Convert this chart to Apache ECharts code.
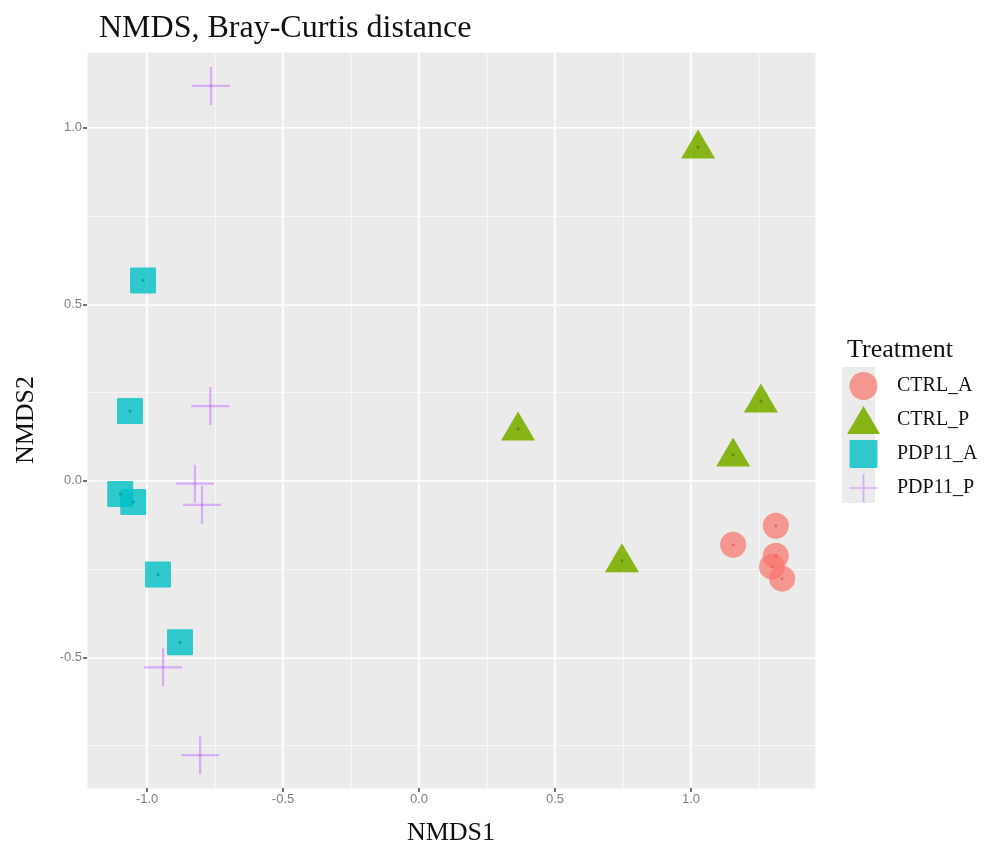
<!DOCTYPE html>
<html>
<head>
<meta charset="utf-8">
<script src="https://cdn.jsdelivr.net/npm/echarts@6/dist/echarts.min.js"></script>
<style>
html,body{margin:0;padding:0;background:#fff;}
#chart{width:987px;height:851px;}
</style>
</head>
<body>
<div id="chart"></div>
<script>
// ---- data ----
const groups = ['CTRL_A', 'CTRL_P', 'PDP11_A', 'PDP11_P'];
const ctrlA_x = [1.312, 1.155, 1.312, 1.298, 1.335];
const ctrlA_y = [-0.127, -0.181, -0.212, -0.243, -0.277];
const ctrlP_x = [1.026, 0.364, 1.257, 1.155, 0.746];
const ctrlP_y = [0.946, 0.147, 0.226, 0.073, -0.226];
const pdpA_x = [-1.015, -1.063, -1.099, -1.051, -0.960, -0.879];
const pdpA_y = [0.568, 0.198, -0.037, -0.060, -0.265, -0.457];
const pdpP_x = [-0.765, -0.768, -0.824, -0.798, -0.941, -0.805];
const pdpP_y = [1.119, 0.212, -0.008, -0.068, -0.528, -0.777];
const xTicks = [-1.0, -0.5, 0.0, 0.5, 1.0];
const yTicks = [-0.5, 0.0, 0.5, 1.0];
const xRange = [-1.221, 1.456];
const yRange = [-0.870, 1.215];

function pairs(xs, ys) { return xs.map((x, i) => [x, ys[i]]); }

const serif = "'Liberation Serif','DejaVu Serif',serif";
const sans = "'Liberation Sans',Arial,sans-serif";
const plusPath = 'path://M0,9.4L20,9.4L20,10.6L0,10.6Z M9.4,0L10.6,0L10.6,20L9.4,20Z';
const sqPath = 'path://M1,0L19,0Q20,0 20,1L20,19Q20,20 19,20L1,20Q0,20 0,19L0,1Q0,0 1,0Z';
const fmt = v => {
  for (const t of xTicks.concat(yTicks)) if (Math.abs(v - t) < 1e-6) return t.toFixed(1);
  return '';
};

const styles = {
  CTRL_A: {symbol: 'circle', size: 26, color: 'rgba(248,118,109,0.72)', dot: 'rgba(230,90,85,0.9)', offset: [0, 0]},
  CTRL_P: {symbol: 'triangle', size: [34, 29], color: 'rgba(124,174,0,0.9)', dot: 'rgba(80,130,0,0.9)', offset: [0, -3]},
  PDP11_A: {symbol: sqPath, size: 26, color: 'rgba(0,191,196,0.8)', dot: 'rgba(0,150,150,0.9)', offset: [0, 0]},
  PDP11_P: {symbol: plusPath, size: 38, color: 'rgba(199,124,255,0.55)', dot: 'rgba(180,100,240,0.6)', offset: [0, 0]}
};
const dataByGroup = {
  CTRL_A: pairs(ctrlA_x, ctrlA_y),
  CTRL_P: pairs(ctrlP_x, ctrlP_y),
  PDP11_A: pairs(pdpA_x, pdpA_y),
  PDP11_P: pairs(pdpP_x, pdpP_y)
};

const series = [];
groups.forEach(g => {
  const s = styles[g];
  series.push({
    name: g, type: 'scatter', xAxisIndex: 0, yAxisIndex: 0,
    symbol: s.symbol, symbolSize: s.size, symbolOffset: s.offset, symbolKeepAspect: true,
    itemStyle: {color: s.color, opacity: 1},
    emphasis: {disabled: true},
    data: dataByGroup[g], z: 3
  });
});
groups.forEach(g => {
  const s = styles[g];
  series.push({
    name: g, type: 'scatter', xAxisIndex: 0, yAxisIndex: 0,
    symbol: 'circle', symbolSize: 3,
    itemStyle: {color: s.dot},
    emphasis: {disabled: true}, silent: true,
    data: dataByGroup[g], z: 4
  });
});

const axisCommon = {
  type: 'value',
  axisLine: {show: false, onZero: false},
  axisTick: {show: true, length: 4, lineStyle: {color: '#444', width: 1.5}},
  axisLabel: {color: '#808080', fontSize: 13, fontFamily: sans, formatter: fmt, margin: 5}
};

const chart = echarts.init(document.getElementById('chart'), null, {renderer: 'canvas'});
chart.setOption({
  animation: false,
  backgroundColor: '#ffffff',
  title: [
    {text: 'NMDS, Bray-Curtis distance', left: 94, top: 8,
     textStyle: {fontFamily: serif, fontSize: 32, fontWeight: 'normal', color: '#111'}},
    {text: 'Treatment', left: 842, top: 332,
     textStyle: {fontFamily: serif, fontSize: 26, fontWeight: 'normal', color: '#111'}}
  ],
  grid: {left: 87, right: 172, top: 52, bottom: 61, show: true, backgroundColor: '#EBEBEB', borderWidth: 0, containLabel: false},
  legend: {
    data: groups, orient: 'vertical', left: 842, top: 367,
    itemWidth: 33, itemHeight: 28, itemGap: 6,
    textStyle: {fontFamily: serif, fontSize: 20, color: '#111', padding: [0, 0, 0, 12]},
    selectedMode: false
  },
  graphic: [
    {type: 'rect', left: 842, top: 367, shape: {width: 33, height: 136}, style: {fill: '#EBEBEB'}, z: -1, silent: true}
  ],
  xAxis: [
    Object.assign({}, axisCommon, {
      min: xRange[0], max: xRange[1], minInterval: 0.5, maxInterval: 0.5, splitNumber: 5,
      axisTick: Object.assign({}, axisCommon.axisTick, {customValues: xTicks}),
      axisLabel: Object.assign({}, axisCommon.axisLabel, {customValues: xTicks}),
      splitLine: {show: true, lineStyle: {color: '#ffffff', width: 2.2}},
      name: 'NMDS1', nameLocation: 'middle', nameGap: 32,
      nameTextStyle: {fontFamily: serif, fontSize: 26, color: '#111'}
    }),
    {
      type: 'value', min: xRange[0], max: xRange[1], minInterval: 0.25, maxInterval: 0.25, splitNumber: 10,
      axisLine: {show: false, onZero: false}, axisTick: {show: false}, axisLabel: {show: false},
      splitLine: {show: true, lineStyle: {color: '#f7f7f7', width: 1}}
    }
  ],
  yAxis: [
    Object.assign({}, axisCommon, {
      min: yRange[0], max: yRange[1], minInterval: 0.5, maxInterval: 0.5, splitNumber: 5,
      axisTick: Object.assign({}, axisCommon.axisTick, {customValues: yTicks}),
      axisLabel: Object.assign({}, axisCommon.axisLabel, {customValues: yTicks}),
      splitLine: {show: true, lineStyle: {color: '#ffffff', width: 2.2}},
      name: 'NMDS2', nameLocation: 'middle', nameGap: 48,
      nameTextStyle: {fontFamily: serif, fontSize: 26, color: '#111'}
    }),
    {
      type: 'value', min: yRange[0], max: yRange[1], minInterval: 0.25, maxInterval: 0.25, splitNumber: 10,
      axisLine: {show: false, onZero: false}, axisTick: {show: false}, axisLabel: {show: false},
      splitLine: {show: true, lineStyle: {color: '#f7f7f7', width: 1}}
    }
  ],
  series: series
});
</script>
</body>
</html>
